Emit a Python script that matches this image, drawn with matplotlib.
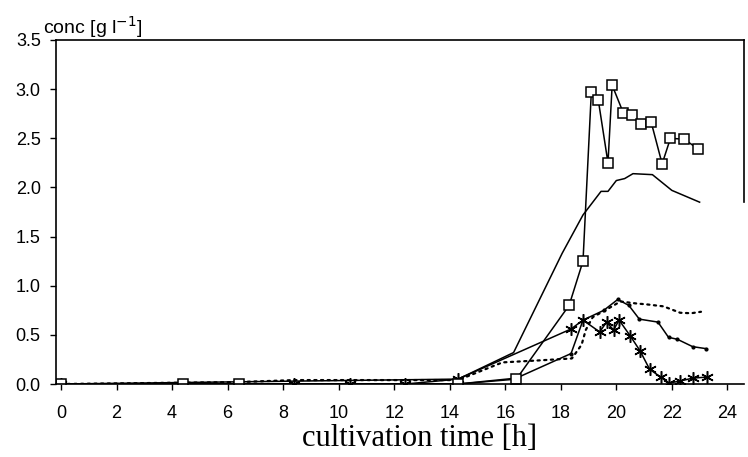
import matplotlib.pyplot as plt

# squares, solid line
sq_t = [0, 4.4, 6.4, 14.3, 16.4, 18.3, 18.8, 19.1, 19.35, 19.7, 19.85, 20.25, 20.55,
        20.9, 21.25, 21.65, 21.95, 22.45, 22.95]
sq_c = [0, 0, 0, 0, 0.05, 0.80, 1.25, 2.97, 2.89, 2.25, 3.04, 2.76, 2.74,
        2.65, 2.67, 2.24, 2.50, 2.49, 2.39]

# solid line, no markers
bio_t = [0, 14.3, 16.3, 18.05, 18.8, 19.45, 19.7, 20.0, 20.3, 20.6, 21.3, 22.0, 23.0]
bio_c = [0, 0.05, 0.32, 1.33, 1.72, 1.96, 1.96, 2.07, 2.09, 2.14, 2.13, 1.97, 1.85]

# asterisks, solid line
st_t = [0, 8.4, 10.4, 12.4, 14.3, 18.37, 18.8, 19.4, 19.65, 19.9, 20.1, 20.5,
        20.85, 21.2, 21.6, 21.9, 22.3, 22.75, 23.25]
st_c = [0, 0, 0, 0, 0.05, 0.56, 0.65, 0.53, 0.63, 0.55, 0.65, 0.49,
        0.34, 0.15, 0.07, 0.01, 0.03, 0.06, 0.07]

# solid line with small dots
pr_t = [0, 14.3, 16.4, 18.37, 18.8, 19.55, 20.05, 20.45, 20.83, 21.5, 21.88, 22.2, 22.75, 23.23]
pr_c = [0, 0, 0.06, 0.31, 0.65, 0.75, 0.86, 0.80, 0.66, 0.63, 0.475, 0.455, 0.38, 0.36]

# dotted line
dt_t = [0, 6.4, 8.4, 10.4, 12.4, 14.3, 15.9, 17.2, 18.4, 18.75, 18.9, 19.15, 19.6,
        20.15, 20.7, 21.1, 21.7, 22.3, 22.7, 23.05]
dt_c = [0, 0.02, 0.04, 0.04, 0.04, 0.04, 0.22, 0.24, 0.26, 0.40, 0.55, 0.68, 0.75,
        0.84, 0.82, 0.81, 0.79, 0.725, 0.72, 0.735]

fig = plt.figure(figsize=(7.48, 4.57), dpi=100)
ax = fig.add_axes([0.0749, 0.1597, 0.9198, 0.7528])

ax.plot(dt_t, dt_c, color='black', lw=1.6, linestyle=(0, (1, 2)), dash_capstyle='round')
ax.plot(bio_t, bio_c, color='black', lw=1.1)
ax.plot(pr_t, pr_c, color='black', lw=1.1, marker='o', markersize=2)
ax.plot(st_t, st_c, color='black', lw=1.1, marker=(6, 2, 0), markersize=9, mew=1.1)
ax.plot(sq_t, sq_c, color='black', lw=1.1, marker='s', markersize=7,
        markerfacecolor='white', mew=1.1)

ax.set_xlim(-0.18, 24.6)
ax.set_ylim(0, 3.5)
ax.set_xticks(range(0, 25, 2))
ax.set_yticks([0, 0.5, 1.0, 1.5, 2.0, 2.5, 3.0, 3.5])
ax.set_yticklabels(['0.0', '0.5', '1.0', '1.5', '2.0', '2.5', '3.0', '3.5'])

for lab in ax.get_xticklabels() + ax.get_yticklabels():
    lab.set_family('Liberation Sans')
    lab.set_fontsize(13)
ax.tick_params(axis='both', direction='out', length=4, width=1.0, colors='black')
ax.tick_params(axis='x', pad=11)
ax.tick_params(axis='y', pad=7)

for s in ax.spines.values():
    s.set_linewidth(1.2)
ax.spines['right'].set_bounds(1.85, 3.5)

fig.text(0.5615, 0.024, 'cultivation time [h]', family='Liberation Serif', fontsize=22,
         ha='center', va='baseline')
fig.text(0.0575, 0.925, r'conc [g l$^{-1}$]', family='Liberation Sans', fontsize=14,
         ha='left', va='baseline')

fig.savefig('out.png', dpi=100)
